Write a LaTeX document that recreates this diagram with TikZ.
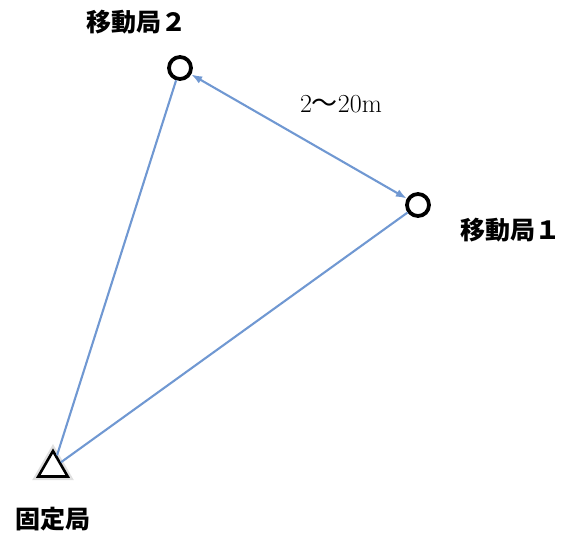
\documentclass[tikz,border=0pt]{standalone}
\usepackage{fontspec}
\newfontfamily\jpfont{Noto Sans CJK JP}
\usetikzlibrary{positioning, shapes.geometric, arrows.meta}
\definecolor{linkblue}{RGB}{112,152,210}
\tikzstyle{Link} = [
%blue connector between stations:
line width = 2.1pt, linkblue
]

\begin{document}
\begin{tikzpicture}[x = 1pt, y = -1pt,
			mobile/.style = {circle, draw, fill = white, line width = 3.8pt, minimum size = 22pt, inner sep = 0pt},
			fixed/.style = {regular polygon, regular polygon sides = 3, draw, fill = white, line width = 2.6pt, minimum size = 34pt, inner sep = 0pt,
				preaction = {draw = black!12, line width = 7pt}},
			jplabel/.style = {font = \jpfont\bfseries\fontsize{25}{25}\selectfont},
			distlabel/.style = {font = \fontsize{26}{26}\selectfont},
		]
		\useasboundingbox (0,0) rectangle (563,539);

		\node[mobile](M2) at (180,68){};
		\node[mobile](M1) at (418,205){};
		\node[fixed](F) at (53,468){};

		\node[jplabel](L2) at (136,22){移動局２};
		\node[jplabel](L1) at (510,230){移動局１};
		\node[jplabel](LF) at (53,519){固定局};

		\draw[Link](F)--(M2);
		\draw[Link](F)--(M1);
		\draw[Link, {Latex[length = 11pt, width = 8pt]}-{Latex[length = 11pt, width = 8pt]}](M2)--(M1);
		\node[distlabel](D) at (341,104){2{\jpfont ～}20m};

	\end{tikzpicture}
\end{document}
